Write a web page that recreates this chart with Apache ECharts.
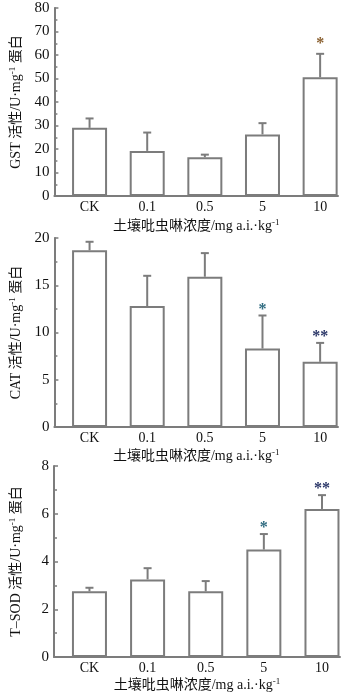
<!DOCTYPE html>
<html><head><meta charset="utf-8">
<script src="https://cdn.jsdelivr.net/npm/echarts@6/dist/echarts.min.js"></script>
<style>html,body{margin:0;padding:0;background:#fff;}#c{width:355px;height:694px;}</style>
</head><body><div id="c"></div>
<script>
const categories = ['CK', '0.1', '0.5', '5', '10'];
const gstMean = [29, 19.2, 16.5, 26.2, 50.5];
const gstErr = [4.0, 7.8, 1.1, 4.8, 10.0];
const gstSig = ['', '', '', '', '*'];
const catMean = [18.7, 12.8, 15.9, 8.3, 6.9];
const catErr = [0.9, 3.2, 2.5, 3.5, 2.0];
const catSig = ['', '', '', '*', '**'];
const sodMean = [2.75, 3.25, 2.75, 4.5, 6.2];
const sodErr = [0.15, 0.47, 0.43, 0.65, 0.58];
const sodSig = ['', '', '', '*', '**'];
const gstTicks = {min: 0, max: 80, interval: 10};
const catTicks = {min: 0, max: 20, interval: 5};
const sodTicks = {min: 0, max: 8, interval: 2};
const xName = '土壤吡虫啉浓度/mg a.i.·kg';

const FONT = '"Liberation Serif", "Noto Sans CJK SC", serif';
const GREY = '#7c7c7c';

const chart = echarts.init(document.getElementById('c'), null, {renderer: 'canvas'});

const grids = [
  {left: 51, top: 8, width: 287, height: 188},
  {left: 51, top: 238, width: 287, height: 189},
  {left: 53, top: 466, width: 287, height: 191}
];
const sets = [
  {mean: gstMean, err: gstErr, sig: gstSig, ticks: gstTicks, yname: 'GST 活性/U·mg'},
  {mean: catMean, err: catErr, sig: catSig, ticks: catTicks, yname: 'CAT 活性/U·mg'},
  {mean: sodMean, err: sodErr, sig: sodSig, ticks: sodTicks, yname: 'T–SOD 活性/U·mg'}
];
const nameGaps = [22, 21, 20];
const yNameGaps = [21, 24, 29];

const rich = {
  a: {fontFamily: FONT, fontSize: 14, color: '#111'},
  s: {fontFamily: FONT, fontSize: 9, color: '#111', verticalAlign: 'top', padding: [0, 0, 8, 0]}
};

const xAxes = [], yAxes = [], series = [];
sets.forEach((s, gi) => {
  xAxes.push({
    gridIndex: gi, type: 'value', min: -0.61, max: 4.31,
    splitLine: {show: false}, axisTick: {show: false},
    axisLine: {show: true, onZero: false, lineStyle: {color: GREY, width: 2}},
    axisLabel: {
      show: true, margin: 4, fontFamily: FONT, fontSize: 14, color: '#111',
      showMinLabel: false, showMaxLabel: false,
      formatter: v => (Number.isInteger(v) && v >= 0 && v < categories.length) ? categories[v] : ''
    },
    name: '{a|' + xName + '}{s|-1}', nameLocation: 'middle', nameGap: nameGaps[gi],
    nameTextStyle: {rich: rich}
  });
  yAxes.push({
    gridIndex: gi, type: 'value', min: s.ticks.min, max: s.ticks.max, interval: s.ticks.interval,
    splitLine: {show: false},
    axisLine: {show: true, onZero: false, lineStyle: {color: GREY, width: 2}},
    axisTick: {show: true, inside: true, length: 4, lineStyle: {color: GREY, width: 1.5}},
    minorTick: {show: true, splitNumber: 2, length: 3, lineStyle: {color: GREY, width: 1.5}},
    axisLabel: {margin: 5, fontFamily: FONT, fontSize: 15, color: '#111'},
    name: '{a|' + s.yname + '}{s|-1}{a| 蛋白}', nameLocation: 'middle', nameGap: yNameGaps[gi],
    nameRotate: 90, nameTextStyle: {rich: rich}
  });
  series.push({
    type: 'bar', xAxisIndex: gi, yAxisIndex: gi, barWidth: 35,
    itemStyle: {color: '#fff', borderColor: GREY, borderWidth: 2},
    data: s.mean.map((v, i) => [i, v]), silent: true
  });
  series.push({
    type: 'custom', xAxisIndex: gi, yAxisIndex: gi, silent: true, z: 5,
    data: s.mean.map((v, i) => [i, v, s.err[i]]),
    renderItem: (params, api) => {
      const i = params.dataIndex;
      const x = api.value(0), m = api.value(1), e = api.value(2);
      const p0 = api.coord([x, m]);
      const p1 = api.coord([x, m + e]);
      const ls = {stroke: GREY, lineWidth: 2};
      const children = [
        {type: 'line', shape: {x1: p0[0], y1: p0[1], x2: p1[0], y2: p1[1]}, style: ls},
        {type: 'line', shape: {x1: p1[0] - 4, y1: p1[1], x2: p1[0] + 4, y2: p1[1]}, style: ls}
      ];
      const sg = s.sig[i];
      if (sg) {
        const col = (gi === 0) ? '#8a6030' : (sg === '*' ? '#2f6b80' : '#2b3768');
        children.push({type: 'text', x: p1[0], y: p1[1] + (gi === 0 ? -2 : 2),
          style: {text: sg, fontFamily: FONT, fontSize: 16, fontWeight: 'bold', fill: col,
                  align: 'center', verticalAlign: 'bottom'}});
      }
      return {type: 'group', children: children};
    }
  });
});

chart.setOption({
  animation: false,
  grid: grids,
  xAxis: xAxes,
  yAxis: yAxes,
  series: series
});
</script></body></html>
